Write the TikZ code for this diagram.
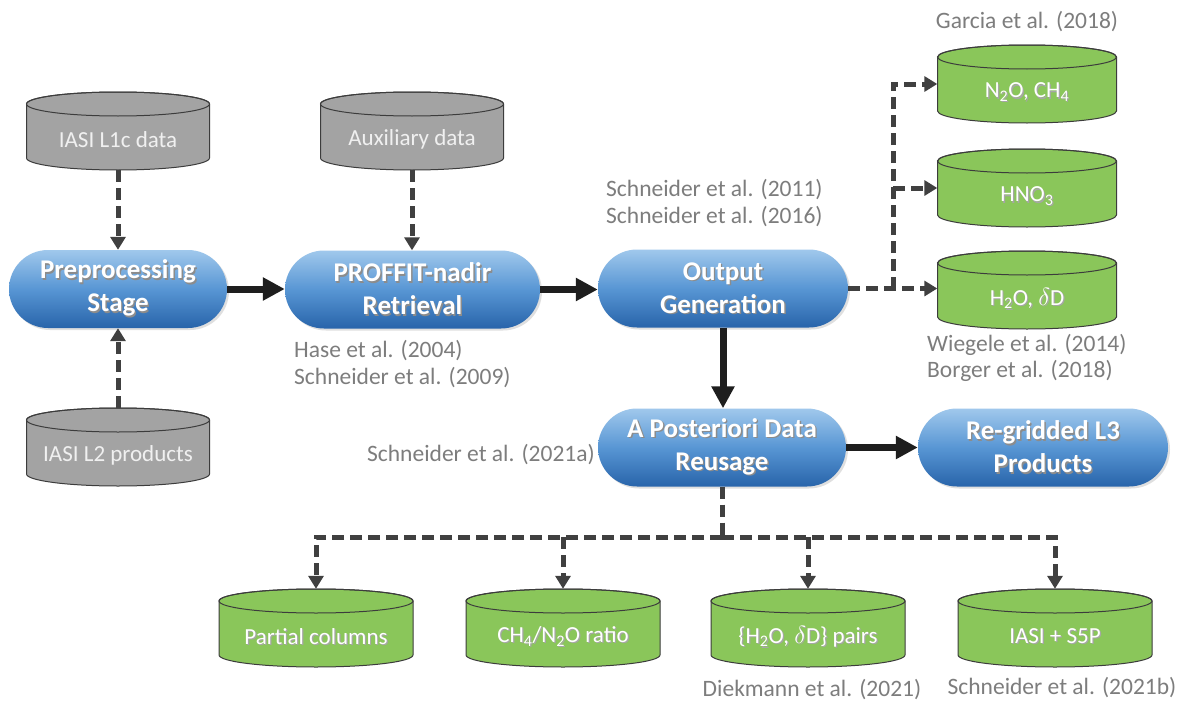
\documentclass[tikz,border=0pt]{standalone}
\usepackage{fontspec}
\setmainfont{Carlito}
\usetikzlibrary{shapes.misc,arrows.meta,shadows,calc}
\definecolor{pillTop}{RGB}{160,200,236}
\definecolor{pillMid}{RGB}{88,150,212}
\definecolor{pillBot}{RGB}{40,100,170}
\definecolor{cylGray}{RGB}{163,163,163}
\definecolor{cylGreen}{RGB}{138,198,90}
\definecolor{cylEdge}{RGB}{60,60,60}
\definecolor{citeGray}{RGB}{125,125,125}
\definecolor{dashCol}{RGB}{64,64,64}
\definecolor{solidCol}{RGB}{30,30,30}
\newcommand\shd[1]{\leavevmode\rlap{\kern1.4pt\raisebox{-1.4pt}{\color{black!45}#1}}#1}
\newcommand\lsh[1]{\leavevmode\rlap{\kern1.2pt\raisebox{-1.2pt}{\color{black!35}#1}}#1}
\newcommand\sub[1]{\textsubscript{#1}}
\newcommand\cyl[7]{%
  \draw[cylline, fill=#5] ({#2-#4},{-#3+27}) -- ({#2-#4},{-#3-27})
     arc[start angle=180,end angle=360,x radius=#4,y radius=12]
     -- ({#2+#4},{-#3+27})
     arc[start angle=0,end angle=180,x radius=#4,y radius=12] -- cycle;
  \draw[cylline] (#2,{-#3+27}) ellipse [x radius=#4, y radius=12];
  \node[cylbox, minimum width={2*#4}] (#1) at (#2,-#3) {};
  \node[cyltext, text=#6] (#1-t) at (#2,{-#3-9}) {\lsh{#7}};
}
\begin{document}
\begin{tikzpicture}[x=1pt,y=1pt,
  pill/.style={rounded rectangle, minimum height=78pt, inner sep=0pt,
    top color=pillTop, bottom color=pillBot, middle color=pillMid, draw=none,
    text=white, align=center,
    font=\fontsize{27}{33}\selectfont\bfseries,
    drop shadow={opacity=0.25, shadow xshift=2pt, shadow yshift=-2pt}},
  cylline/.style={draw=cylEdge, line width=1pt},
  cylbox/.style={rectangle, minimum height=78pt, inner sep=0pt, draw=none},
  cyltext/.style={inner sep=0pt, font=\fontsize{23}{26}\selectfont},
  cite/.style={inner sep=0pt, text=citeGray, align=left, font=\fontsize{23.5}{26.5}\selectfont},
  solidarr/.style={draw=solidCol, line width=7pt, -{Triangle[length=22pt,width=22pt]}},
  dashln/.style={draw=dashCol, line width=5pt, dash pattern=on 12pt off 6pt},
  dasharr/.style={dashln, -{Triangle[length=13pt,width=15pt]}}]
\useasboundingbox (0,0) rectangle (1179,-704);
\fill[white] (0,0) rectangle (1179,-704);

% gray input cylinders
\cyl{l1c}{118}{131}{91.5}{cylGray}{black!6}{IASI L1c data}
\cyl{aux}{412}{131}{91.5}{cylGray}{black!6}{Auxiliary data}
\cyl{l2}{118}{447}{91.5}{cylGray}{black!6}{IASI L2 products}

% right green cylinders
\cyl{n2o}{1027}{84}{89.5}{cylGreen}{white}{N\sub{2}O, CH\sub{4}}
\cyl{hno}{1027}{188}{89.5}{cylGreen}{white}{HNO\sub{3}}
\cyl{h2o}{1027}{290}{89.5}{cylGreen}{white}{H\sub{2}O, $\delta$D}

% bottom green cylinders
\cyl{pc}{316}{628}{97}{cylGreen}{white}{Partial columns}
\cyl{ratio}{563}{628}{97}{cylGreen}{white}{CH\sub{4}/N\sub{2}O ratio}
\cyl{pairs}{808}{628}{97}{cylGreen}{white}{\{H\sub{2}O, $\delta$D\} pairs}
\cyl{s5p}{1055}{628}{97}{cylGreen}{white}{IASI + S5P}

% process pills
\node[pill, minimum width=218pt] (pre) at (118,-289) {\shd{Preprocessing}\\\shd{Stage}};
\node[pill, minimum width=255pt] (prof) at (412.5,-289.5) {\shd{PROFFIT-nadir}\\\shd{Retrieval}};
\node[pill, minimum width=250pt] (out) at (723,-288.5) {\shd{Output}\\\shd{Generation}};
\node[pill, minimum width=248pt] (apost) at (722,-447.5) {\shd{A Posteriori Data}\\\shd{Reusage}};
\node[pill, minimum width=250pt] (regrid) at (1043,-447.5) {\shd{Re-gridded L3}\\\shd{Products}};

% citations
\node[cite] (c1) at (1027,-22) {Garcia et al. (2018)};
\node[cite, anchor=west] (c2) at (606,-203) {Schneider et al. (2011)\\Schneider et al. (2016)};
\node[cite, anchor=west] (c3) at (294,-364) {Hase et al. (2004)\\Schneider et al. (2009)};
\node[cite, anchor=west] (c4) at (927,-358) {Wiegele et al. (2014)\\Borger et al. (2018)};
\node[cite, anchor=east] (c5) at (595,-455) {Schneider et al. (2021a)};
\node[cite] (c6) at (812,-690) {Diekmann et al. (2021)};
\node[cite] (c7) at (1062,-688) {Schneider et al. (2021b)};

% solid arrows
\draw[solidarr] (pre.east) -- (prof.west |- pre.east);
\draw[solidarr] (prof.east) -- (out.west |- prof.east);
\draw[solidarr] (out.south) -- (apost.north -| out.south);
\draw[solidarr] (apost.east) -- (regrid.west);

% dashed inputs
\draw[dasharr] (l1c.south) -- (pre.north);
\draw[dasharr] (aux.south) -- (prof.north -| aux.south);
\draw[dasharr] (l2.north) -- (pre.south);

% right branch
\coordinate (rt) at (893,-289);
\draw[dasharr] (out.east) -- (h2o.west |- out.east);
\draw[dasharr] (rt) |- (n2o.west);
\draw[dasharr] (rt |- hno.west) -- (hno.west);

% bottom branch
\coordinate (bt) at (722,-537);
\draw[dashln] (apost.south) -- (bt);
\draw[dasharr] (bt) -| (pc.north);
\draw[dasharr] (bt) -| (s5p.north);
\draw[dasharr] (bt -| ratio.north) -- (ratio.north);
\draw[dasharr] (bt -| pairs.north) -- (pairs.north);
\end{tikzpicture}
\end{document}
